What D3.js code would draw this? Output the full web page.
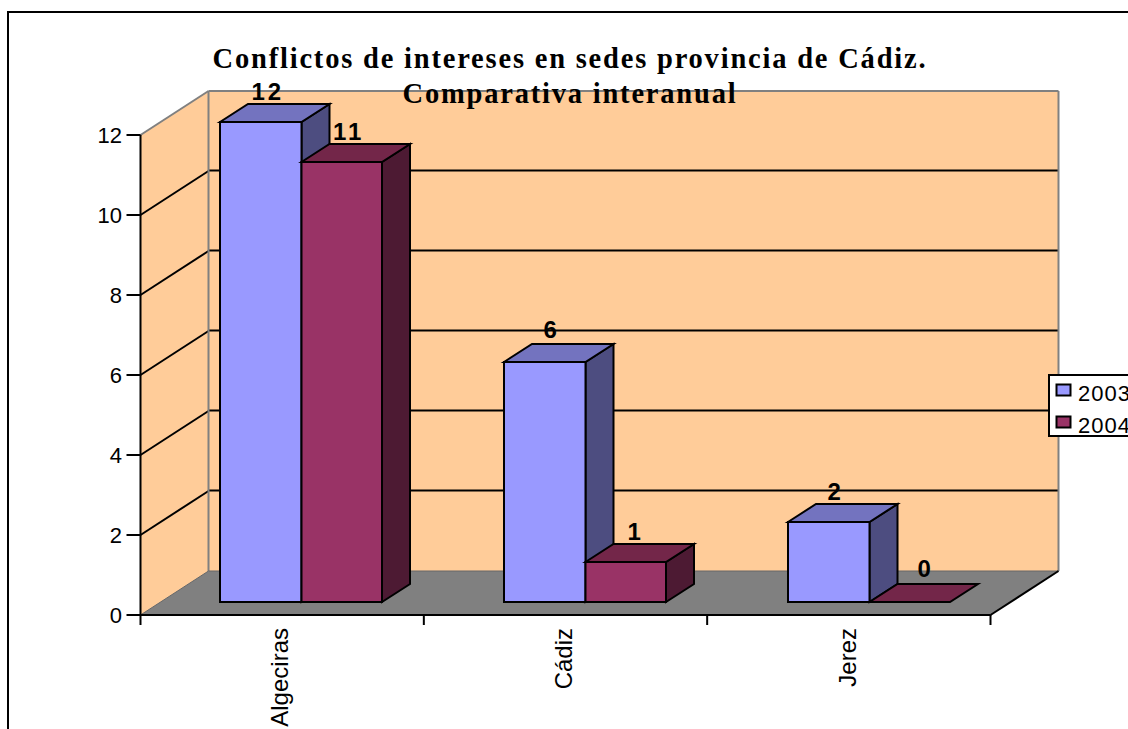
<!DOCTYPE html>
<html><head><meta charset="utf-8">
<script src="https://cdn.jsdelivr.net/npm/d3@7"></script>
<style>html,body{margin:0;padding:0;background:#fff;overflow:hidden}svg{display:block}</style>
</head><body><div id="c"></div>
<script>
const categories = ["Algeciras","Cádiz","Jerez"];
const seriesNames = ["2003","2004"];
const values2003 = [12,6,2];
const values2004 = [11,1,0];
const yTicks = [0,2,4,6,8,10,12];
const titleLines = ["Conflictos de intereses en sedes provincia de Cádiz.","Comparativa interanual"];
const colors = {
  "2003":{front:"#9999FF",top:"#7373BF",side:"#4D4D80"},
  "2004":{front:"#993366",top:"#732649",side:"#4D1A33"}
};
const W=1128,H=729;
const svg=d3.select("#c").append("svg").attr("width",W).attr("height",H);
const x=d3.scaleBand().domain(categories).range([140.5,990.5]);
const xBars=d3.scaleBand().domain(categories).range([220,1072]);
const inner=d3.scaleBand().domain(seriesNames).range([0,163]);
const y=d3.scaleLinear().domain([0,12]).range([615,135]);
const wall={dx:68,dy:-44}, bar={dx:28,dy:-18}, front={dy:-13};
const poly=(pts,fill,stroke,sw)=>svg.append("polygon").attr("points",pts.map(p=>p.join(",")).join(" ")).attr("fill",fill).attr("stroke",stroke||"none").attr("stroke-width",sw||0).attr("stroke-linejoin","miter");
const line=(x1,y1,x2,y2,c,w)=>svg.append("line").attr("x1",x1).attr("y1",y1).attr("x2",x2).attr("y2",y2).attr("stroke",c).attr("stroke-width",w);
const [L,R]=x.range(), y0=y(0), yT=y(12);
// outer frame
line(8,12,W,12,"#000",2); line(8,11,8,H,"#000",2);
// walls
poly([[L+wall.dx,yT+wall.dy],[R+wall.dx,yT+wall.dy],[R+wall.dx,y0+wall.dy],[L+wall.dx,y0+wall.dy]],"#FFCC99");
poly([[L,yT],[L+wall.dx,yT+wall.dy],[L+wall.dx,y0+wall.dy],[L,y0]],"#FFCC99");
// floor
poly([[L,y0],[L+wall.dx,y0+wall.dy],[R+wall.dx,y0+wall.dy],[R,y0]],"#808080");
// gridlines
yTicks.slice(1,-1).forEach(t=>{
  line(L,y(t),L+wall.dx,y(t)+wall.dy,"#000",2);
  line(L+wall.dx,y(t)+wall.dy-0.5,R+wall.dx,y(t)+wall.dy-0.5,"#000",2);
});
// wall edges
line(L+wall.dx,yT+wall.dy,R+wall.dx,yT+wall.dy,"#808080",2);
line(L+wall.dx,yT+wall.dy,L+wall.dx,y0+wall.dy,"#808080",2);
line(R+wall.dx,yT+wall.dy,R+wall.dx,y0+wall.dy,"#808080",2);
line(L,yT,L+wall.dx,yT+wall.dy,"#808080",2);
line(L+wall.dx,y0+wall.dy,R+wall.dx,y0+wall.dy,"#666",1);
line(L,y0,L+wall.dx,y0+wall.dy,"#666",1);
line(R,y0,R+wall.dx,y0+wall.dy,"#000",2);
// axes
line(L,yT,L,y0,"#000",2);
line(L,y0,R,y0,"#000",2);
yTicks.forEach(t=>line(L-14,y(t),L,y(t),"#000",2));
[L,...categories.map(c=>x(c)+x.bandwidth())].forEach(v=>line(v,y0,v,y0+10,"#000",2));
svg.selectAll(".yl").data(yTicks).enter().append("text").attr("x",122).attr("y",d=>y(d)+8)
  .attr("text-anchor","end").attr("font-family","Liberation Sans").attr("font-size",22).text(d=>d);
svg.selectAll(".xl").data(categories).enter().append("text")
  .attr("transform",d=>`translate(${xBars(d)+68},628) rotate(-90)`)
  .attr("text-anchor","end").attr("font-family","Liberation Sans").attr("font-size",24).text(d=>d);
// bars
const base=y0+front.dy;
const labels=[];
categories.forEach((c,i)=>{
  const start=xBars(c);
  [values2003[i],values2004[i]].forEach((v,j)=>{
    const s=seriesNames[j], col=colors[s];
    const a=start+inner(s), b=a+inner.bandwidth()-j;
    const top=base-(y0-y(v));
    const st="#000";
    if(v>0){
      poly([[b,top],[b+bar.dx,top+bar.dy],[b+bar.dx,base+bar.dy],[b,base]],col.side,st,2);
    }
    poly([[a,top],[a+bar.dx,top+bar.dy],[b+bar.dx,top+bar.dy],[b,top]],col.top,st,2);
    if(v>0) poly([[a,top],[b,top],[b,base],[a,base]],col.front,st,2);
    labels.push({v,x:(a+b)/2+(v===0?16:v===1?10:7),y:top-(v===0?25:v===6?24:22)});
  });
});
svg.selectAll(".dl").data(labels).enter().append("text").attr("x",d=>d.x).attr("y",d=>d.y)
  .attr("text-anchor","middle").attr("font-family","Liberation Sans").attr("font-weight","bold")
  .attr("font-size",24).attr("letter-spacing",3).text(d=>d.v);
// title
svg.selectAll(".t").data(titleLines).enter().append("text").attr("x",570).attr("y",(d,i)=>68+i*34.5)
  .attr("text-anchor","middle").attr("font-family","Liberation Serif").attr("font-weight","bold")
  .attr("font-size",28.5).attr("letter-spacing",1.8).text(d=>d);
// legend
svg.append("rect").attr("x",1049).attr("y",375).attr("width",90).attr("height",61).attr("fill","#fff").attr("stroke","#000").attr("stroke-width",2);
seriesNames.forEach((s,i)=>{
  svg.append("rect").attr("x",1056.5).attr("y",384.5+i*32).attr("width",14).attr("height",11).attr("fill",colors[s].front).attr("stroke","#000").attr("stroke-width",2);
  svg.append("text").attr("x",1078).attr("y",401+i*32).attr("font-family","Liberation Sans").attr("font-size",22).attr("letter-spacing",1).text(s);
});
</script></body></html>
